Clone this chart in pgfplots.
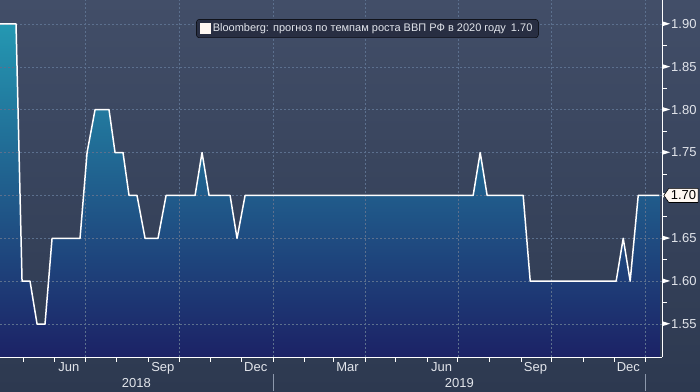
\documentclass[border=0pt]{standalone}
\usepackage{fontspec}
\setmainfont{Liberation Sans}
\usepackage{pgfplots}
\pgfplotsset{compat=1.18}
\usetikzlibrary{shapes.symbols}
\definecolor{bgtop}{RGB}{66,78,104}
\definecolor{bgbot}{RGB}{45,57,80}
\definecolor{areatop}{RGB}{36,152,178}
\definecolor{areamid}{RGB}{31,92,140}
\definecolor{areabot}{RGB}{28,34,102}
\definecolor{gridc}{RGB}{92,112,142}
\definecolor{legbg}{RGB}{40,46,66}
\definecolor{tickc}{RGB}{226,229,235}
\definecolor{sepc}{RGB}{140,152,172}
\definecolor{valbg}{RGB}{255,248,242}

\pgfplotstableread{
x y
97.5 1.90
113.2 1.90
119.1 1.60
126.9 1.60
133.8 1.55
141.6 1.55
148.5 1.65
175.9 1.65
182.8 1.75
190.6 1.80
204.3 1.80
210.2 1.75
218.0 1.75
223.9 1.70
231.7 1.70
239.6 1.65
252.3 1.65
260.2 1.70
288.6 1.70
295.4 1.75
302.3 1.70
322.9 1.70
329.7 1.65
337.6 1.70
561.0 1.70
567.9 1.75
574.7 1.70
610.0 1.70
616.9 1.60
701.1 1.60
708.0 1.65
714.8 1.60
722.7 1.70
743.3 1.70
}\gdpdata

\begin{document}
\begin{tikzpicture}
\shade[top color=bgtop, bottom color=bgbot] (0pt,-34pt) rectangle (700pt,357pt);
\path[use as bounding box] (0pt,-34pt) rectangle (700pt,357pt);
\begin{axis}[
  at={(0pt,0pt)}, anchor=south west,
  scale only axis, width=662pt, height=357pt,
  xmin=97.5, xmax=746, ymin=1.5115, ymax=1.928,
  axis x line*=bottom, axis y line*=right,
  axis line style={white, line width=1pt, -},
  axis on top,
  tick align=outside,
  major tick length=0pt, minor tick length=4.5pt,
  every tick/.style={white, line width=0.8pt},
  xtick={165,257,348,438,530,622,713},
  xticklabels={Jun,Sep,Dec,Mar,Jun,Sep,Dec},
  minor xtick={120,151,181,212,243,273,304,334,365,396,424,455,485,516,546,577,608,638,669,699,730},
  xticklabel style={text=tickc, font=\fontsize{13}{15}\selectfont, yshift=-2pt},
  ytick={1.55,1.60,1.65,1.70,1.75,1.80,1.85,1.90},
  minor y tick num=1,
  /pgf/number format/assume math mode=true,
  yticklabel={\tikz[baseline=0pt]\fill[white] (0pt,2.2pt) -- (8pt,4.7pt) -- (0pt,7.2pt) -- cycle;\hspace{1pt}\pgfmathprintnumber[fixed,fixed zerofill,precision=2]{\tick}},
  yticklabel style={anchor=west, inner xsep=0pt, xshift=0pt, text=tickc, font=\fontsize{13}{15}\selectfont},
  legend style={at={(0.555,0.92)}, anchor=center, fill=legbg, draw=black, rounded corners=3pt,
    text=tickc, font=\fontsize{11}{13}\selectfont, inner xsep=4pt, inner ysep=2.5pt},
  legend cell align=left,
]
\addplot[forget plot, draw=none, top color=areatop, middle color=areamid, bottom color=areabot]
  table[x=x,y=y] {\gdpdata} -- (axis cs:743.3,1.5115) -- (axis cs:97.5,1.5115) -- cycle;
\pgfplotsinvokeforeach{1.55,1.60,1.65,1.70,1.75,1.80,1.85,1.90}{
  \draw[gridc, line width=0.6pt, dash pattern=on 2pt off 2pt] (axis cs:97.5,#1) -- (axis cs:746,#1);
}
\pgfplotsinvokeforeach{181,273,365,455,546,638,730}{
  \draw[gridc, line width=0.6pt, dash pattern=on 2pt off 2pt] (axis cs:#1,1.5115) -- (axis cs:#1,1.928);
}
\addplot[forget plot, white, line width=1.5pt, line join=round] table[x=x,y=y] {\gdpdata};
\addlegendimage{legend image code/.code={\fill[valbg, sharp corners] (0pt,-5pt) rectangle (10pt,5pt);}}
\addlegendentry{Bloomberg: прогноз по темпам роста ВВП РФ в 2020 году\hspace{5pt}1.70}
\coordinate (lastv) at (axis cs:746,1.70);
\coordinate (y18) at (axis cs:231,1.5115);
\coordinate (y19) at (axis cs:547.5,1.5115);
\coordinate (s19) at (axis cs:365,1.5115);
\coordinate (s20) at (axis cs:730,1.5115);
\end{axis}
\node[signal, signal to=west, signal pointer angle=110, fill=valbg, draw=black, line width=0.6pt,
  inner xsep=2pt, inner ysep=2.5pt, text=black, font=\fontsize{13}{15}\selectfont, anchor=west]
  at ([xshift=1.5pt]lastv) {1.70};
\node[text=tickc, font=\fontsize{13}{15}\selectfont] at ([yshift=-26pt]y18) {2018};
\node[text=tickc, font=\fontsize{13}{15}\selectfont] at ([yshift=-26pt]y19) {2019};
\draw[sepc, line width=0.8pt] ([yshift=-17pt]s19) -- ([yshift=-34pt]s19);
\draw[sepc, line width=0.8pt] ([yshift=-17pt]s20) -- ([yshift=-34pt]s20);
\end{tikzpicture}
\end{document}
